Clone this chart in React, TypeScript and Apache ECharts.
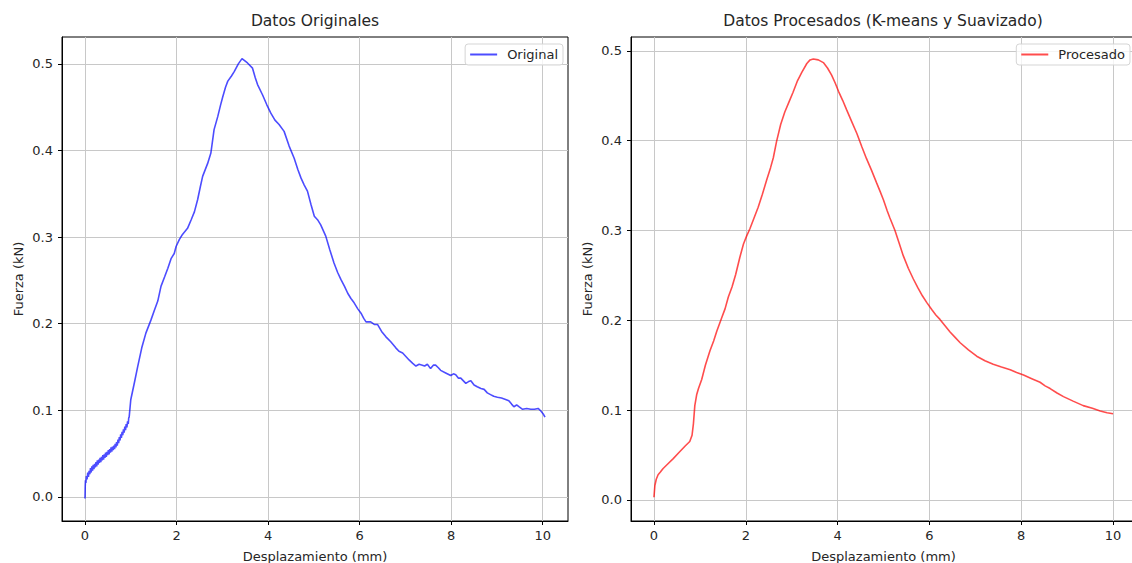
import React, { useEffect, useRef } from "react";
import * as echarts from "echarts";

const titles = ["Datos Originales", "Datos Procesados (K-means y Suavizado)"];
const xLabel = "Desplazamiento (mm)";
const yLabel = "Fuerza (kN)";
const xTicks = [0, 2, 4, 6, 8, 10];
const yTicks = [0, 0.1, 0.2, 0.3, 0.4, 0.5];

const origX = [
  0.0, 0.005, 0.01, 0.02, 0.03, 0.045, 0.06, 0.075, 0.09, 0.105, 0.12, 0.135, 0.15, 0.165, 0.18, 0.195, 0.21,
  0.225, 0.24, 0.255, 0.27, 0.285, 0.3, 0.315, 0.33, 0.345, 0.36, 0.375, 0.39, 0.405, 0.42, 0.435, 0.45, 0.465,
  0.48, 0.495, 0.51, 0.525, 0.54, 0.555, 0.57, 0.585, 0.6, 0.615, 0.63, 0.645, 0.66, 0.675, 0.69, 0.705, 0.72,
  0.735, 0.75, 0.765, 0.78, 0.795, 0.81, 0.825, 0.84, 0.855, 0.87, 0.885, 0.9, 0.915, 0.93, 0.945, 0.955, 0.965,
  1.0, 1.08, 1.15, 1.24, 1.33, 1.44, 1.52, 1.59, 1.66, 1.74, 1.81, 1.88, 1.95, 1.99, 2.06, 2.13,
  2.24, 2.32, 2.39, 2.46, 2.52, 2.57, 2.68, 2.75, 2.82, 2.9, 2.96, 3.01, 3.07, 3.12, 3.2, 3.26, 3.35, 3.43,
  3.55, 3.66, 3.72, 3.77, 3.88, 3.97, 4.06, 4.15, 4.24, 4.35, 4.46, 4.57, 4.65, 4.72, 4.79, 4.86, 4.94, 5.01,
  5.08, 5.15, 5.26, 5.35, 5.44, 5.52, 5.59, 5.67, 5.74, 5.81, 5.88, 5.96, 6.03, 6.09, 6.14, 6.24, 6.32, 6.39,
  6.48, 6.57, 6.68, 6.79, 6.86, 6.94, 7.01, 7.08, 7.16, 7.23, 7.3, 7.37, 7.42, 7.48, 7.55, 7.61, 7.66, 7.72,
  7.77, 7.88, 7.99, 8.05, 8.1, 8.16, 8.21, 8.32, 8.38, 8.43, 8.5, 8.57, 8.65, 8.72, 8.79, 8.86, 8.93, 9.01,
  9.1, 9.16, 9.26, 9.32, 9.37, 9.43, 9.48, 9.56, 9.65, 9.74, 9.82, 9.9, 9.96, 10.02, 10.05,
];
const origY = [
  -0.002, 0.012, 0.019, 0.016, 0.024, 0.02, 0.028, 0.023, 0.03, 0.026, 0.033, 0.028, 0.035, 0.03, 0.037, 0.032,
  0.038, 0.034, 0.04, 0.035, 0.042, 0.037, 0.043, 0.039, 0.045, 0.04, 0.046, 0.042, 0.048, 0.043, 0.049, 0.045,
  0.051, 0.046, 0.052, 0.048, 0.054, 0.049, 0.055, 0.051, 0.057, 0.052, 0.058, 0.054, 0.059, 0.055, 0.061, 0.057,
  0.063, 0.059, 0.066, 0.062, 0.069, 0.065, 0.072, 0.068, 0.075, 0.071, 0.078, 0.074, 0.081, 0.077, 0.084, 0.08,
  0.087, 0.084, 0.091, 0.092,
  0.112, 0.132, 0.15, 0.172, 0.189, 0.204, 0.216, 0.226, 0.243, 0.254,
  0.264, 0.275, 0.281, 0.289, 0.297, 0.303, 0.31, 0.32, 0.329, 0.343, 0.358, 0.37, 0.385, 0.397, 0.424, 0.439,
  0.452, 0.462, 0.473, 0.48, 0.486, 0.491, 0.5, 0.506, 0.501, 0.495, 0.484, 0.476, 0.464, 0.453, 0.443, 0.435,
  0.43, 0.422, 0.405, 0.391, 0.378, 0.368, 0.36, 0.353, 0.337, 0.324, 0.32, 0.314, 0.301, 0.285, 0.27, 0.259,
  0.251, 0.243, 0.235, 0.229, 0.224, 0.217, 0.212, 0.206, 0.202, 0.202, 0.199, 0.199, 0.191, 0.185, 0.179, 0.172,
  0.168, 0.166, 0.162, 0.158, 0.154, 0.151, 0.153, 0.152, 0.151, 0.153, 0.148, 0.152, 0.152, 0.149, 0.146, 0.143,
  0.14, 0.142, 0.141, 0.137, 0.137, 0.131, 0.133, 0.134, 0.129, 0.127, 0.125, 0.124, 0.12, 0.118, 0.116, 0.115,
  0.114, 0.113, 0.111, 0.107, 0.104, 0.106, 0.104, 0.101, 0.102, 0.101, 0.101, 0.102, 0.099, 0.095, 0.092,
];

const procX = [
  0.0, 0.02, 0.05, 0.09, 0.14, 0.2, 0.3, 0.42, 0.55, 0.68, 0.78, 0.83, 0.86, 0.89, 0.93, 0.97, 1.04, 1.12, 1.22,
  1.3, 1.37, 1.47, 1.55, 1.62, 1.7, 1.78, 1.87, 1.95, 2.02, 2.09, 2.18, 2.27, 2.36, 2.46, 2.54, 2.6, 2.67, 2.76,
  2.85, 2.94, 3.03, 3.12, 3.22, 3.33, 3.4, 3.47, 3.58, 3.69, 3.78, 3.87, 3.95, 4.02, 4.11, 4.2, 4.31, 4.42, 4.53,
  4.63, 4.74, 4.85, 4.93, 5.0, 5.08, 5.14, 5.25, 5.34, 5.43, 5.54, 5.65, 5.75, 5.85, 5.94, 6.05, 6.14, 6.23, 6.34,
  6.45, 6.56, 6.67, 6.85, 7.03, 7.21, 7.39, 7.57, 7.76, 7.9, 8.05, 8.23, 8.41, 8.52, 8.63, 8.78, 8.92, 9.13, 9.35,
  9.55, 9.72, 9.87, 10.0,
];
const procY = [
  0.003, 0.016, 0.023, 0.028, 0.031, 0.035, 0.04, 0.046, 0.053, 0.06, 0.065, 0.072, 0.085, 0.105, 0.117, 0.124,
  0.134, 0.15, 0.166, 0.177, 0.188, 0.202, 0.213, 0.226, 0.237, 0.251, 0.27, 0.285, 0.294, 0.302, 0.314, 0.326,
  0.34, 0.357, 0.37, 0.381, 0.399, 0.418, 0.432, 0.443, 0.454, 0.466, 0.476, 0.486, 0.49, 0.491, 0.49, 0.487,
  0.481, 0.473, 0.464, 0.455, 0.445, 0.434, 0.421, 0.408, 0.393, 0.38, 0.367, 0.353, 0.343, 0.334, 0.322, 0.314,
  0.3, 0.286, 0.272, 0.258, 0.246, 0.236, 0.227, 0.22, 0.212, 0.206, 0.201, 0.194, 0.187, 0.181, 0.175, 0.167,
  0.16, 0.155, 0.151, 0.148, 0.145, 0.142, 0.139, 0.135, 0.131, 0.127, 0.124, 0.119, 0.115, 0.11, 0.105, 0.102,
  0.099, 0.097, 0.096,
];

const FONT = "DejaVu Sans";
const TXT = "#262626";

function pairs(xs: number[], ys: number[]) {
  return xs.map((x, i) => [x, ys[i]]);
}

function xAxisFor(gridIndex: number, min: number, max: number) {
  return {
    type: "value",
    gridIndex,
    min,
    max,
    name: xLabel,
    nameLocation: "middle",
    nameGap: 29,
    nameTextStyle: { fontFamily: FONT, fontSize: 13, color: TXT },
    axisLine: { show: true, onZero: false, lineStyle: { color: "#000", width: 1 } },
    axisTick: { show: true, length: 4, inside: false, customValues: xTicks, lineStyle: { color: "#000" } },
    axisLabel: {
      customValues: xTicks,
      margin: 8,
      fontFamily: FONT,
      fontSize: 13,
      color: TXT,
      formatter: (v: number) => String(Math.round(v)),
    },
    splitLine: { show: true, lineStyle: { color: "#c8c8c8", width: 1 } },
  };
}

function yAxisFor(gridIndex: number, min: number, max: number) {
  return {
    type: "value",
    gridIndex,
    min,
    max,
    name: yLabel,
    nameLocation: "middle",
    nameGap: 37,
    nameTextStyle: { fontFamily: FONT, fontSize: 13, color: TXT },
    axisLine: { show: true, onZero: false, lineStyle: { color: "#000", width: 1 } },
    axisTick: { show: true, length: 4, inside: false, customValues: yTicks, lineStyle: { color: "#000" } },
    axisLabel: {
      customValues: yTicks,
      margin: 9,
      fontFamily: FONT,
      fontSize: 13,
      color: TXT,
      formatter: (v: number) => v.toFixed(1),
    },
    splitLine: { show: true, lineStyle: { color: "#c8c8c8", width: 1 } },
  };
}

const legendBase = {
  orient: "vertical",
  top: 44,
  icon: "rect",
  itemWidth: 27,
  itemHeight: 2,
  itemGap: 0,
  padding: [4, 5, 4, 5],
  borderColor: "#d5d5d5",
  borderWidth: 1,
  borderRadius: 3,
  backgroundColor: "rgba(255,255,255,0.8)",
  textStyle: { fontFamily: FONT, fontSize: 13, color: TXT, padding: [0, 0, 0, 5] },
};

export default function App() {
  const ref = useRef<HTMLDivElement>(null);
  useEffect(() => {
    if (!ref.current) return;
    const chart = echarts.init(ref.current, undefined, { renderer: "svg" });
    const option = {
      animation: false,
      backgroundColor: "#ffffff",
      title: [
        {
          text: titles[0],
          left: 315,
          top: 13,
          textAlign: "center",
          padding: 0,
          textStyle: { fontFamily: FONT, fontSize: 15.5, fontWeight: "normal", color: TXT },
        },
        {
          text: titles[1],
          left: 883,
          top: 13,
          textAlign: "center",
          padding: 0,
          textStyle: { fontFamily: FONT, fontSize: 15.5, fontWeight: "normal", color: TXT },
        },
      ],
      legend: [
        { ...legendBase, data: ["Original"], right: 569 },
        { ...legendBase, data: ["Procesado"], right: 2 },
      ],
      grid: [
        {
          left: 62, top: 37, width: 506, height: 484, outerBoundsMode: "none", containLabel: false,
          show: true, borderColor: "#000", borderWidth: 1, backgroundColor: "transparent",
        },
        {
          left: 631, top: 37, width: 505, height: 484, outerBoundsMode: "none", containLabel: false,
          show: true, borderColor: "#000", borderWidth: 1, backgroundColor: "transparent",
        },
      ],
      xAxis: [xAxisFor(0, -0.5025, 10.5525), xAxisFor(1, -0.5, 10.5)],
      yAxis: [yAxisFor(0, -0.028, 0.531), yAxisFor(1, -0.0235, 0.5155)],
      series: [
        {
          name: "Original",
          type: "line",
          xAxisIndex: 0,
          yAxisIndex: 0,
          data: pairs(origX, origY),
          showSymbol: false,
          symbol: "none",
          lineStyle: { color: "rgba(0,0,255,0.7)", width: 1.6 },
          itemStyle: { color: "rgba(0,0,255,0.7)" },
        },
        {
          name: "Procesado",
          type: "line",
          xAxisIndex: 1,
          yAxisIndex: 1,
          data: pairs(procX, procY),
          showSymbol: false,
          symbol: "none",
          lineStyle: { color: "rgba(255,0,0,0.7)", width: 1.6 },
          itemStyle: { color: "rgba(255,0,0,0.7)" },
        },
      ],
    };
    chart.setOption(option as any);
    return () => chart.dispose();
  }, []);
  return (
    <div
      ref={ref}
      style={{ position: "fixed", left: 0, top: 0, width: 1132, height: 563, background: "#fff" }}
    />
  );
}
